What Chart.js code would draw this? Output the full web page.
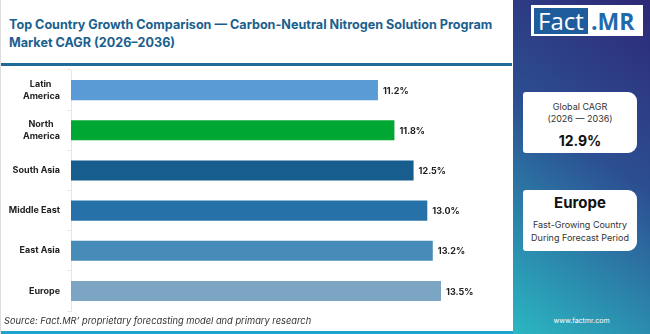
<!DOCTYPE html>
<html>
<head>
<meta charset="utf-8">
<script src="https://cdn.jsdelivr.net/npm/chart.js@4"></script>
<style>
  html, body { margin:0; padding:0; }
  body { width:650px; height:334px; position:relative; overflow:hidden; background:#fff; font-family:'Inter','Noto Sans',sans-serif; }
  .left { position:absolute; left:0; top:0; width:513px; height:334px; background:#fff; border-left:1px solid #ddd; box-sizing:border-box; }
  .title { position:absolute; left:8px; top:16px; width:500px; font-weight:700; font-size:12.6px; line-height:18px; color:#1b5f8e; }
  .rule { position:absolute; left:0; top:63px; width:511px; height:3px; background:#1f6a9a; }
  .chart-wrap { position:absolute; left:0; top:66px; width:514px; height:250px; }
  .source { position:absolute; left:3px; top:315px; font-size:9.3px; font-style:italic; color:#333; }
  .strip { position:absolute; left:0; top:331px; width:514px; height:3px; background:#1ea5cc; }
  .side { position:absolute; left:513px; top:0; width:137px; height:334px;
          background:linear-gradient(215deg, #2e2877 0%, #2c4f92 45%, #2bb7c2 100%); }
  .logo { position:absolute; left:18px; top:5px; width:112px; height:31px; background:#fff; }
  .logo .fact { position:absolute; left:3px; top:3px; width:54px; height:26px; background:#1f5c9c; color:#fff; font-size:24px; line-height:26px; text-align:center; font-family:'Open Sans',sans-serif; }
  .logo .mr { position:absolute; left:60px; top:3px; height:26px; color:#1f6aac; font-size:23px; line-height:26px; font-weight:700; font-family:'Open Sans',sans-serif; }
  .card { position:absolute; left:10px; width:114px; background:#fff; border-radius:3px 9px 9px 3px; text-align:center; color:#333; }
  .c1 { top:92px; height:61px; }
  .c2 { top:190px; height:61px; }
  .small { font-size:9px; line-height:12px; }
  .big { font-size:14px; font-weight:700; color:#111; }
  .www { position:absolute; left:0; width:137px; top:316px; text-align:center; color:#fff; font-size:7px; }
</style>
</head>
<body>
<div class="left">
  <div class="title">Top Country Growth Comparison — Carbon-Neutral Nitrogen Solution Program Market CAGR (2026–2036)</div>
  <div class="rule"></div>
  <div class="chart-wrap"><canvas id="c"></canvas></div>
  <div class="source">Source: Fact.MR’ proprietary forecasting model and primary research</div>
  <div class="strip"></div>
</div>
<div class="side">
  <div class="logo"><div class="fact">Fact</div><div class="mr">.MR</div></div>
  <div class="card c1">
    <div class="small" style="margin-top:9px">Global CAGR</div>
    <div class="small">(2026 — 2036)</div>
    <div class="big" style="margin-top:7px">12.9%</div>
  </div>
  <div class="card c2">
    <div style="font-size:15px;font-weight:700;color:#111;margin-top:3px;line-height:20px">Europe</div>
    <div class="small" style="margin-top:6px">Fast-Growing Country</div>
    <div class="small" style="margin-top:1px">During Forecast Period</div>
  </div>
  <div class="www">www.factmr.com</div>
</div>
<script>
const regions = [['Latin', 'America'], ['North', 'America'], 'South Asia', 'Middle East', 'East Asia', 'Europe']
const cagr = [11.2, 11.8, 12.5, 13.0, 13.2, 13.5]
const barColors = ['#5b9bd5', '#00a833', '#175e8f', '#2672a8', '#478bb8', '#7ba5c2']

// bar end labels
const valueLabels = {
  id: 'valueLabels',
  afterDatasetsDraw(chart) {
    const ctx = chart.ctx
    const meta = chart.getDatasetMeta(0)
    ctx.save()
    ctx.font = '700 9px Inter, sans-serif'
    ctx.fillStyle = '#222'
    ctx.textAlign = 'left'
    ctx.textBaseline = 'middle'
    meta.data.forEach((bar, i) => {
      ctx.fillText(cagr[i].toFixed(1) + '%', bar.x + 5, bar.y + 1)
    })
    ctx.restore()
  }
}

// centre the short line of two-line labels over the long one
function padLabel(lbl) {
  if (!Array.isArray(lbl)) return lbl
  const c = document.createElement('canvas').getContext('2d')
  c.font = '700 9px Inter, sans-serif'
  const w = lbl.map(s => c.measureText(s).width)
  const max = Math.max(...w)
  const sp = c.measureText(' ').width
  return lbl.map((s, i) => s + ' '.repeat(Math.round((max - w[i]) / 2 / sp)))
}

new Chart(document.getElementById('c'), {
  type: 'bar',
  data: {
    labels: regions.map(padLabel),
    datasets: [{ data: cagr, backgroundColor: barColors, barPercentage: 0.5, categoryPercentage: 1 }]
  },
  options: {
    indexAxis: 'y',
    responsive: true,
    maintainAspectRatio: false,
    animation: false,
    layout: { padding: { top: 4, bottom: 5, left: 0, right: 0 } },
    plugins: { legend: { display: false }, tooltip: { enabled: false } },
    scales: {
      x: { display: false, min: 0, max: 16.2 },
      y: {
        afterFit(scale) { scale.width = 70; scale.paddingTop = 0; scale.paddingBottom = 0 },
        grid: { drawOnChartArea: false, drawTicks: true, tickLength: 4, color: '#e6e6e6' },
        border: { color: '#e6e6e6' },
        ticks: { color: '#222', font: { family: 'Inter', size: 9, weight: '700', lineHeight: 1.35 }, padding: 7 }
      }
    }
  },
  plugins: [valueLabels]
})
</script>
</body>
</html>
